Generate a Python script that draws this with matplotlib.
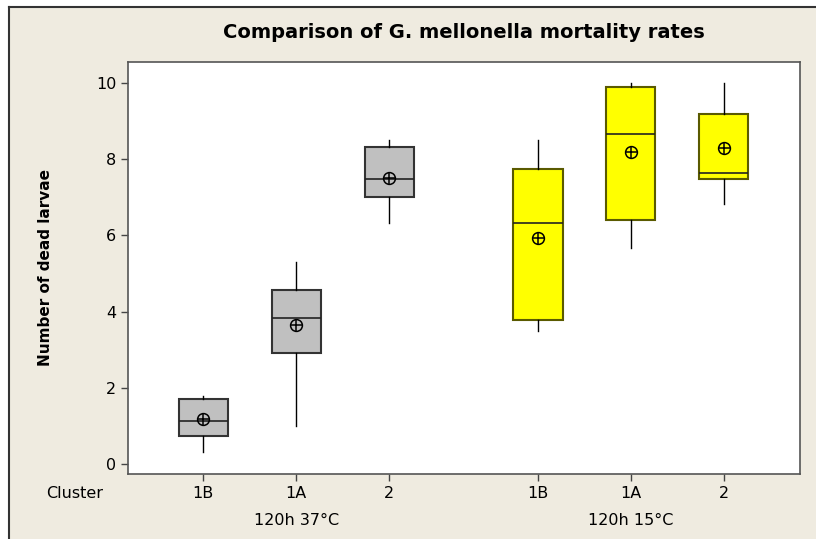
import matplotlib.pyplot as plt
from matplotlib.lines import Line2D

# box statistics (Minitab style boxplot)
clusters = ["1B", "1A", "2", "1B", "1A", "2"]
groups = ["120h 37°C", "120h 15°C"]
positions = [1, 2, 3, 4.6, 5.6, 6.6]
whislo = [0.31, 1.0, 6.33, 3.49, 5.66, 6.82]
q1 = [0.74, 2.91, 7.01, 3.77, 6.40, 7.49]
med = [1.14, 3.82, 7.49, 6.33, 8.65, 7.65]
q3 = [1.72, 4.56, 8.31, 7.73, 9.90, 9.18]
whishi = [1.79, 5.31, 8.50, 8.50, 10.0, 10.0]
means = [1.18, 3.65, 7.51, 5.94, 8.20, 8.29]
face_colors = ["#C0C0C0"] * 3 + ["#FFFF00"] * 3
edge_colors = ["#333333"] * 3 + ["#5a5a00"] * 3

BG = "#EFEBE0"

fig = plt.figure(figsize=(8.16, 5.39), dpi=100)
fig.patch.set_facecolor("white")
# beige panel with dark border on top/left
fig.patches.append(plt.Rectangle((9 / 816, 0), 1, 1 - 7 / 539, transform=fig.transFigure,
                                 facecolor=BG, edgecolor="none", zorder=-10))
fig.lines.append(Line2D([9 / 816, 9 / 816], [0, 1 - 7 / 539], transform=fig.transFigure,
                        color="#333333", lw=1.5))
fig.lines.append(Line2D([9 / 816, 1], [1 - 7 / 539, 1 - 7 / 539], transform=fig.transFigure,
                        color="#333333", lw=1.5))

ax = fig.add_axes([128 / 816, 65 / 539, 672 / 816, 412 / 539])
ax.set_facecolor("white")

stats = []
for i in range(len(clusters)):
    stats.append(dict(whislo=whislo[i], q1=q1[i], med=med[i], q3=q3[i],
                      whishi=whishi[i], fliers=[]))

bp = ax.bxp(stats, positions=positions, widths=0.53, patch_artist=True,
            showcaps=False, manage_ticks=False,
            whiskerprops=dict(color="black", lw=1),
            medianprops=dict(color="#222222", lw=1.2))
for patch, fc, ec in zip(bp["boxes"], face_colors, edge_colors):
    patch.set_facecolor(fc)
    patch.set_edgecolor(ec)
    patch.set_linewidth(1.5)

# mean symbol: circle with cross
ax.plot(positions, means, "o", ms=8.5, mfc="none", mec="black", mew=1.1, zorder=5)
ax.plot(positions, means, "+", ms=8.5, mec="black", mew=1.1, zorder=5)

ax.set_xlim(0.19, 7.42)
ax.set_ylim(-0.26, 10.55)
ax.set_yticks([0, 2, 4, 6, 8, 10])
ax.set_xticks(positions)
ax.set_xticklabels(clusters)
ax.tick_params(axis="both", labelsize=11.5, color="#444444", length=5, width=1)
ax.tick_params(axis="x", pad=4)
for sp in ax.spines.values():
    sp.set_color("#555555")
    sp.set_linewidth(1.2)

ax.set_ylabel("Number of dead larvae", fontsize=11, fontweight="bold", labelpad=31)
ax.set_title("Comparison of G. mellonella mortality rates", fontsize=14,
             fontweight="bold", pad=17)

fig.text(75 / 816, 1 - 493 / 539, "Cluster", fontsize=11.5, ha="center", va="center")
group_centers = [positions[1], positions[4]]
for g, c in zip(groups, group_centers):
    ax.text(c, -0.114, g, transform=ax.get_xaxis_transform(), fontsize=11.5,
            ha="center", va="center")

fig.savefig("out.png", dpi=100, facecolor=fig.get_facecolor())
